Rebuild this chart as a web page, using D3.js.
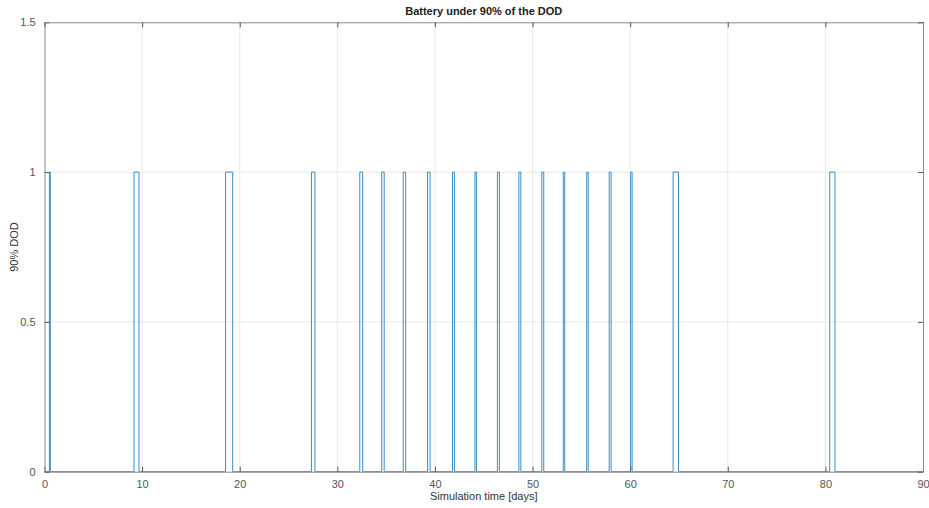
<!DOCTYPE html>
<html>
<head>
<meta charset="utf-8">
<script src="https://cdn.jsdelivr.net/npm/d3@7"></script>
<style>
  html, body { margin: 0; padding: 0; background: #fff; }
  svg { display: block; font-family: "Liberation Sans", Arial, sans-serif; }
</style>
</head>
<body>
<svg id="chart" width="929" height="508"></svg>
<script>
// Pulse intervals (days) where battery is under 90% DOD
const pulseStarts = [0.50, 9.17, 18.55, 27.35, 32.30, 34.55, 36.75, 39.25, 41.80, 44.10, 46.40, 48.60, 50.95, 53.15, 55.55, 57.85, 60.05, 64.40, 80.45];
const pulseEnds   = [0.60, 9.68, 19.28, 27.70, 32.60, 34.80, 37.00, 39.50, 42.00, 44.25, 46.60, 48.80, 51.15, 53.30, 55.70, 58.05, 60.20, 64.95, 80.98];
const xTicks = [0, 10, 20, 30, 40, 50, 60, 70, 80, 90];
const yTicks = [0, 0.5, 1, 1.5];
const pulseLevel = 1;
const xDomain = [0, 90];
const yDomain = [0, 1.5];
const titleText = "Battery under 90% of the DOD";
const xLabelText = "Simulation time [days]";
const yLabelText = "90% DOD";

// build step series
const series = [{t: 0, v: 0}];
pulseStarts.forEach((s, i) => {
  series.push({t: s, v: 0}, {t: s, v: pulseLevel}, {t: pulseEnds[i], v: pulseLevel}, {t: pulseEnds[i], v: 0});
});
series.push({t: 90, v: 0});

const svg = d3.select("#chart");
const pL = 44.5, pR = 923, pT = 22.3, pB = 471.7;
const x = d3.scaleLinear().domain(xDomain).range([pL, pR]);
const y = d3.scaleLinear().domain(yDomain).range([pB, pT]);

// grid
svg.append("g").selectAll("line").data(xTicks.slice(1, -1)).join("line")
  .attr("x1", d => x(d)).attr("x2", d => x(d))
  .attr("y1", pT).attr("y2", pB)
  .attr("stroke", "#e8e8e8").attr("stroke-width", 1);
svg.append("g").selectAll("line").data(yTicks.slice(1, -1)).join("line")
  .attr("y1", d => y(d)).attr("y2", d => y(d))
  .attr("x1", pL).attr("x2", pR)
  .attr("stroke", "#e8e8e8").attr("stroke-width", 1);

// data line
svg.append("path").datum(series)
  .attr("fill", "none")
  .attr("stroke", "#3a8dc4")
  .attr("stroke-width", 1)
  .attr("d", d3.line().x(d => x(d.t)).y(d => y(d.v)));

// axes (MATLAB style: ticks inside, box)
const axisColor = "#8a8a8a";
const gx = svg.append("g").attr("transform", `translate(0,${pB})`)
  .call(d3.axisBottom(x).tickValues(xTicks).tickSizeInner(-5).tickSizeOuter(0).tickPadding(9));
const gy = svg.append("g").attr("transform", `translate(${pL},0)`)
  .call(d3.axisLeft(y).tickValues(yTicks).tickFormat(d3.format("")).tickSizeInner(-5).tickSizeOuter(0).tickPadding(9));
const gxt = svg.append("g").attr("transform", `translate(0,${pT})`)
  .call(d3.axisTop(x).tickValues(xTicks).tickSizeInner(-5).tickSizeOuter(0).tickFormat(""));
const gyr = svg.append("g").attr("transform", `translate(${pR},0)`)
  .call(d3.axisRight(y).tickValues(yTicks).tickSizeInner(-5).tickSizeOuter(0).tickFormat(""));
[gx, gy, gxt, gyr].forEach(g => {
  g.select(".domain").attr("stroke", axisColor);
  g.selectAll(".tick line").attr("stroke", "#555");
  g.selectAll(".tick text").attr("fill", "#555").attr("font-size", 11)
    .attr("font-family", "'Liberation Sans', Arial, sans-serif");
});

// title & labels
svg.append("text").attr("x", (pL + pR) / 2).attr("y", 15)
  .attr("text-anchor", "middle").attr("font-size", 11).attr("font-weight", "bold")
  .attr("fill", "#222").text(titleText);
svg.append("text").attr("x", (pL + pR) / 2).attr("y", 500)
  .attr("text-anchor", "middle").attr("font-size", 11).attr("fill", "#333").text(xLabelText);
svg.append("text").attr("transform", `translate(18,${(pT + pB) / 2}) rotate(-90)`)
  .attr("text-anchor", "middle").attr("font-size", 11).attr("fill", "#333").text(yLabelText);
</script>
</body>
</html>
